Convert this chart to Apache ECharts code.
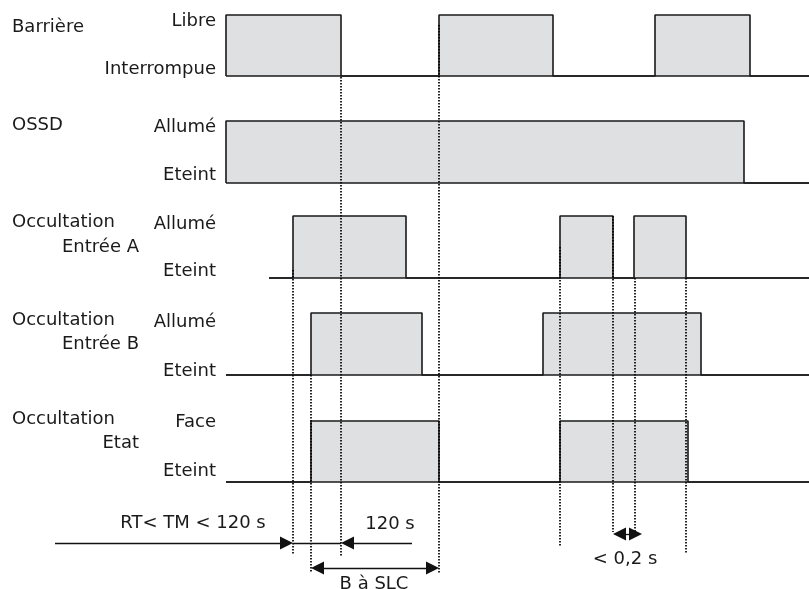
<!DOCTYPE html>
<html>
<head>
<meta charset="utf-8">
<script src="https://cdn.jsdelivr.net/npm/echarts@6/dist/echarts.min.js"></script>
<style>html,body{margin:0;padding:0;background:#fff}#c{width:809px;height:589px}</style>
</head>
<body>
<div id="c"></div>
<script>
// ---------- data (time units) ----------
const tEnd = 583;
const signalNames = ['Barrière', 'OSSD', 'Occultation', 'Occultation', 'Occultation'];
const signalSubNames = ['', '', 'Entrée A', 'Entrée B', 'Etat'];
const highStates = ['Libre', 'Allumé', 'Allumé', 'Allumé', 'Face'];
const lowStates = ['Interrompue', 'Eteint', 'Eteint', 'Eteint', 'Eteint'];
const signalStarts = [0, 0, 43, 0, 0];
const barrierePulses = [[0, 115], [213, 327], [429, 524]];
const ossdPulses = [[0, 518]];
const entreeAPulses = [[67, 180], [334, 387], [408, 460]];
const entreeBPulses = [[85, 196], [317, 475]];
const etatPulses = [[85, 213], [334, 462]];
const markerTimes = [67, 85, 115, 213, 334, 387, 409, 460];
const rtStart = -171;
const limit120Start = 186;
const smallGapEnd = 416;
const annotationTexts = ['RT< TM < 120 s', '120 s', 'B à SLC', '< 0,2 s'];
const annotationTimes = [-33, 164, 148, 399];
const pulses = [barrierePulses, ossdPulses, entreeAPulses, entreeBPulses, etatPulses];

// ---------- layout (pixels) ----------
const rowTop = [15, 121, 216, 313, 421];
const rowHeight = [61, 62, 62, 62, 61];
const hiShift = [6, 6, 8, 9, 1];
const loShift = [7, 8, 7, 4, 11];
const nameY = [29, 127, 224, 322, 421];
const subNameY = [0, 0, 249, 346, 445];
const dotSpans = [[270, 555], [375, 573], [77, 556], [25, 573], [247, 547], [216, 532], [278, 532], [278, 554]];
const annotY = [523, 524, 584, 559];
const HEAD = 13;           // arrow head size (px)
const FONT = 'DejaVu Sans';
const INK = '#1a1a1a';

function stepData(start, ps) {
  const d = [[start, 0]];
  ps.forEach(([a, b]) => { d.push([a, 0], [a, 1], [b, 1], [b, 0]); });
  d.push([tEnd, 0]);
  return d;
}

const grid = [], xAxis = [], yAxis = [], series = [];
for (let i = 0; i < 5; i++) {
  grid.push({ left: 226, right: 0, top: rowTop[i], height: rowHeight[i] });
  xAxis.push({ type: 'value', gridIndex: i, min: 0, max: tEnd, show: false });
  yAxis.push({
    type: 'value', gridIndex: i, min: 0, max: 1, interval: 1,
    axisLine: { show: false }, axisTick: { show: false }, splitLine: { show: false },
    axisLabel: {
      margin: 10,
      formatter: v => v === 1 ? '{hi|' + highStates[i] + '}' : '{lo|' + lowStates[i] + '}',
      rich: {
        hi: { fontFamily: FONT, fontSize: 18, color: INK, padding: [2 * hiShift[i], 0, 0, 0] },
        lo: { fontFamily: FONT, fontSize: 18, color: INK, padding: [0, 0, 2 * loShift[i], 0] }
      }
    }
  });
  series.push({
    type: 'line', xAxisIndex: i, yAxisIndex: i, data: stepData(signalStarts[i], pulses[i]),
    showSymbol: false, symbol: 'none', clip: false, silent: true, animation: false,
    lineStyle: { color: INK, width: 1.6 },
    areaStyle: { color: '#dfe0e2', opacity: 1, origin: 'start' }
  });
  // baseline (closes the bottom edge of every pulse)
  series.push({
    type: 'line', xAxisIndex: i, yAxisIndex: i, data: [[signalStarts[i], 0], [tEnd, 0]],
    showSymbol: false, symbol: 'none', clip: false, silent: true, animation: false,
    lineStyle: { color: INK, width: 1.6 }
  });
}
// overlay grid for markers and arrows
grid.push({ left: 0, right: 0, top: 0, bottom: 0 });
xAxis.push({ type: 'value', gridIndex: 5, min: -226, max: tEnd, show: false });
yAxis.push({ type: 'value', gridIndex: 5, min: 0, max: 589, inverse: true, show: false });

const dotLines = markerTimes.map((t, k) => [
  { coord: [t, dotSpans[k][0]] }, { coord: [t, dotSpans[k][1]] }
]);
series.push({
  type: 'line', xAxisIndex: 5, yAxisIndex: 5, data: [], silent: true, animation: false,
  markLine: {
    silent: true, animation: false, symbol: ['none', 'none'], label: { show: false },
    lineStyle: { color: '#000', width: 2, type: [1.5, 1.5], opacity: 0.85 },
    data: dotLines
  }
});
const arrowY = 543, slcY = 568, smallY = 534;
const h = HEAD / 2;
function arrow(x1, x2, y, s1, s2) {
  const dir = x2 > x1 ? 1 : -1;
  const a = s1 === 'none' ? x1 : x1 + dir * h;
  const b = s2 === 'none' ? x2 : x2 - dir * h;
  return [{ coord: [a, y], symbol: s1 }, { coord: [b, y], symbol: s2 }];
}
series.push({
  type: 'line', xAxisIndex: 5, yAxisIndex: 5, data: [], silent: true, animation: false,
  markLine: {
    silent: true, animation: false, label: { show: false }, symbolSize: HEAD,
    lineStyle: { color: '#111', width: 1.3, type: 'solid', opacity: 1 },
    itemStyle: { color: '#111' },
    emphasis: { disabled: true },
    data: [
      arrow(rtStart, markerTimes[0], arrowY, 'none', 'triangle'),
      arrow(markerTimes[0], markerTimes[2], arrowY, 'none', 'none'),
      arrow(limit120Start, markerTimes[2], arrowY, 'none', 'triangle'),
      arrow(markerTimes[1], markerTimes[3], slcY, 'triangle', 'triangle'),
      arrow(markerTimes[5], smallGapEnd, smallY, 'triangle', 'triangle')
    ]
  }
});
series.push({
  type: 'scatter', xAxisIndex: 5, yAxisIndex: 5, symbolSize: 1, silent: true, animation: false,
  itemStyle: { opacity: 0 },
  data: annotationTexts.map((s, k) => [annotationTimes[k], annotY[k]]),
  label: {
    show: true, position: 'inside', fontFamily: FONT, fontSize: 18, color: INK, opacity: 1,
    formatter: p => annotationTexts[p.dataIndex]
  }
});

const graphic = [];
for (let i = 0; i < 5; i++) {
  graphic.push({ type: 'text', left: 12, top: nameY[i] - 11, silent: true,
    style: { text: signalNames[i], fontFamily: FONT, fontSize: 18, fill: INK } });
  if (signalSubNames[i]) {
    graphic.push({ type: 'text', right: 809 - 139, top: subNameY[i] - 11, silent: true,
      style: { text: signalSubNames[i], fontFamily: FONT, fontSize: 18, fill: INK } });
  }
}

const chart = echarts.init(document.getElementById('c'), null, { renderer: 'canvas' });
chart.setOption({ animation: false, backgroundColor: '#fff', grid, xAxis, yAxis, series, graphic });
</script>
</body>
</html>
